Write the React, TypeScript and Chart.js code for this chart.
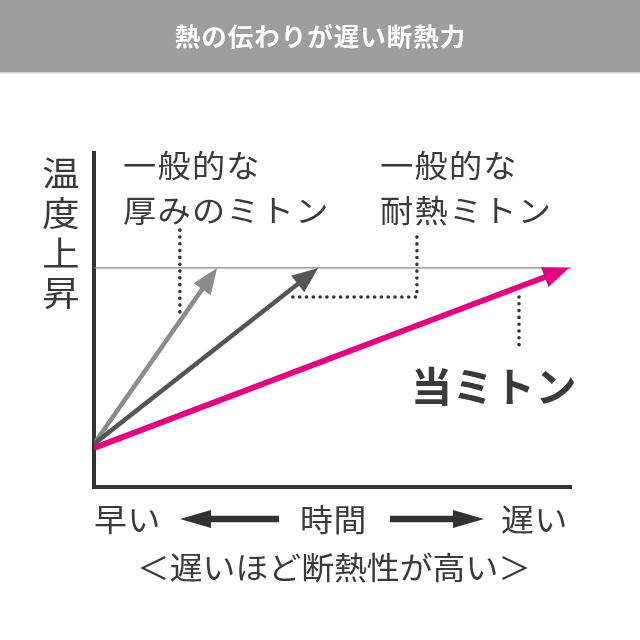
import React, { useEffect, useRef } from "react";
import { Chart, registerables } from "chart.js";

Chart.register(...registerables);

// ---------- texts ----------
const TITLE = "熱の伝わりが遅い断熱力";
const Y_TITLE_CHARS = ["温", "度", "上", "昇"];
const X_LABELS = ["早い", "時間", "遅い"];
const X_NOTE = "＜遅いほど断熱性が高い＞";
const LABEL_THICK = ["一般的な", "厚みのミトン"];
const LABEL_HEAT = ["一般的な", "耐熱ミトン"];
const LABEL_OURS = "当ミトン";

// ---------- data (arbitrary units: time on x, temperature rise on y) ----------
const X_RANGE = [0, 10];
const Y_RANGE = [0, 10];
const SERIES = ["当ミトン", "一般的な耐熱ミトン", "一般的な厚みのミトン"];
const ARROW_START_X = [0, 0, 0];
const ARROW_START_Y = [1.17, 1.29, 1.29];
const ARROW_END_X = [9.96, 4.7, 2.58];
const ARROW_END_Y = [6.56, 6.56, 6.56];
const CEILING_X = [0, 10];
const CEILING_Y = [6.56, 6.56];
const CALLOUT_THICK_X = [1.8, 1.8];
const CALLOUT_THICK_Y = [7.69, 5.15];
const CALLOUT_HEAT_X = [4.17, 6.77, 6.77];
const CALLOUT_HEAT_Y = [5.69, 5.69, 7.49];
const CALLOUT_OURS_X = [8.91, 8.91];
const CALLOUT_OURS_Y = [5.69, 4.1];

// ---------- styles ----------
const SERIES_COLORS = ["#e4007f", "#555555", "#8c8c8c"];
const SERIES_WIDTHS = [5.8, 4.5, 4.5];
const TEXT_COLOR = "#3a3a3a";
const FONT = '"Noto Sans CJK JP", "Noto Sans", sans-serif';
const HEAD_LEN = 26;
const HEAD_W = 21;

const pts = (xs: number[], ys: number[]) => xs.map((x, i) => ({ x, y: ys[i] }));

function drawText(
  ctx: CanvasRenderingContext2D,
  text: string,
  x: number,
  y: number,
  font: string,
  color: string,
  align: "left" | "center",
  sx = 1,
  ls = 0
) {
  ctx.save();
  ctx.font = font;
  ctx.fillStyle = color;
  ctx.textBaseline = "middle";
  ctx.textAlign = "left";
  (ctx as any).letterSpacing = ls + "px";
  const w = ctx.measureText(text).width * sx - ls * sx;
  const x0 = align === "center" ? x - w / 2 : x;
  ctx.translate(x0, y);
  ctx.scale(sx, 1);
  ctx.fillText(text, 0, 0);
  ctx.restore();
}

function blockArrow(
  ctx: CanvasRenderingContext2D,
  x1: number,
  x2: number,
  y: number,
  dir: number
) {
  const hl = 31;
  const hw = 9;
  const th = 3.2;
  ctx.save();
  ctx.fillStyle = "#333333";
  ctx.beginPath();
  if (dir < 0) {
    ctx.moveTo(x1, y);
    ctx.lineTo(x1 + hl, y - hw);
    ctx.lineTo(x1 + hl, y - th);
    ctx.lineTo(x2, y - th);
    ctx.lineTo(x2, y + th);
    ctx.lineTo(x1 + hl, y + th);
    ctx.lineTo(x1 + hl, y + hw);
  } else {
    ctx.moveTo(x2, y);
    ctx.lineTo(x2 - hl, y - hw);
    ctx.lineTo(x2 - hl, y - th);
    ctx.lineTo(x1, y - th);
    ctx.lineTo(x1, y + th);
    ctx.lineTo(x2 - hl, y + th);
    ctx.lineTo(x2 - hl, y + hw);
  }
  ctx.closePath();
  ctx.fill();
  ctx.restore();
}

function headGeom(data: any[]) {
  const p1 = data[data.length - 2];
  const p2 = data[data.length - 1];
  const dx = p2.x - p1.x;
  const dy = p2.y - p1.y;
  const L = Math.hypot(dx, dy) || 1;
  const ux = dx / L;
  const uy = dy / L;
  return { tx: p2.x, ty: p2.y, ux, uy, nx: -uy, ny: ux };
}

const arrowPlugin = {
  id: "arrowHeads",
  beforeDatasetDraw(chart: any, args: any) {
    const ds = chart.data.datasets[args.index];
    if (!ds.arrowHead) return;
    const g = headGeom(args.meta.data);
    const ctx = chart.ctx as CanvasRenderingContext2D;
    ctx.save();
    ctx.beginPath();
    ctx.rect(0, 0, chart.width, chart.height);
    const mx = g.tx - g.ux * HEAD_LEN * 0.55;
    const my = g.ty - g.uy * HEAD_LEN * 0.55;
    const r = 20;
    ctx.moveTo(mx + g.nx * r, my + g.ny * r);
    ctx.lineTo(mx + g.nx * r + g.ux * 50, my + g.ny * r + g.uy * 50);
    ctx.lineTo(mx - g.nx * r + g.ux * 50, my - g.ny * r + g.uy * 50);
    ctx.lineTo(mx - g.nx * r, my - g.ny * r);
    ctx.closePath();
    ctx.clip("evenodd");
  },
  afterDatasetDraw(chart: any, args: any) {
    const ds = chart.data.datasets[args.index];
    if (!ds.arrowHead) return;
    const ctx = chart.ctx as CanvasRenderingContext2D;
    ctx.restore();
    const g = headGeom(args.meta.data);
    const bx = g.tx - g.ux * HEAD_LEN;
    const by = g.ty - g.uy * HEAD_LEN;
    ctx.save();
    ctx.fillStyle = ds.borderColor;
    ctx.beginPath();
    ctx.moveTo(g.tx, g.ty);
    ctx.lineTo(bx + (g.nx * HEAD_W) / 2, by + (g.ny * HEAD_W) / 2);
    ctx.lineTo(bx - (g.nx * HEAD_W) / 2, by - (g.ny * HEAD_W) / 2);
    ctx.closePath();
    ctx.fill();
    ctx.restore();
  },
};

const decorPlugin = {
  id: "decor",
  beforeDraw(chart: any) {
    const ctx = chart.ctx as CanvasRenderingContext2D;
    const { width, height } = chart;
    ctx.save();
    ctx.fillStyle = "#ffffff";
    ctx.fillRect(0, 0, width, height);
    ctx.fillStyle = "#9e9e9e";
    ctx.fillRect(0, 0, width, 72);
    ctx.fillStyle = "#d0d0d0";
    ctx.fillRect(0, 72, width, 1.5);
    ctx.restore();
    drawText(ctx, TITLE, width / 2, 36, `bold 25px ${FONT}`, "#ffffff", "center", 1.02, 1);
  },
  afterDraw(chart: any) {
    const ctx = chart.ctx as CanvasRenderingContext2D;
    Y_TITLE_CHARS.forEach((c, i) => {
      drawText(ctx, c, 61, 173 + i * 40, `34px ${FONT}`, TEXT_COLOR, "center", 1.1, 0);
    });
    LABEL_THICK.forEach((t, i) => {
      drawText(ctx, t, 123, 165 + i * 45, `31px ${FONT}`, TEXT_COLOR, "left", 1.07, 1.2);
    });
    LABEL_HEAT.forEach((t, i) => {
      drawText(ctx, t, 380, 165 + i * 45, `31px ${FONT}`, TEXT_COLOR, "left", 1.07, 1.2);
    });
    drawText(ctx, LABEL_OURS, 411, 386, `bold 41px ${FONT}`, TEXT_COLOR, "left", 1.0, 0.5);
    drawText(ctx, X_LABELS[0], 94, 519, `31px ${FONT}`, TEXT_COLOR, "left", 1.06, 0.5);
    drawText(ctx, X_LABELS[1], 300, 519, `31px ${FONT}`, TEXT_COLOR, "left", 1.06, 0.5);
    drawText(ctx, X_LABELS[2], 501, 519, `31px ${FONT}`, TEXT_COLOR, "left", 1.06, 0.5);
    blockArrow(ctx, 180, 279, 519, -1);
    blockArrow(ctx, 390, 484, 519, 1);
    drawText(ctx, X_NOTE, 334, 567, `31px ${FONT}`, TEXT_COLOR, "center", 1.06, 0);
  },
};

export default function App() {
  const ref = useRef<HTMLCanvasElement | null>(null);

  useEffect(() => {
    if (!ref.current) return;
    const dotted = {
      borderColor: "#333333",
      borderWidth: 3.6,
      borderDash: [0.01, 6.8],
      borderCapStyle: "round",
      pointRadius: 0,
      fill: false,
    };
    const datasets: any[] = [
      ...SERIES.map((name, i) => ({
        label: name,
        data: [
          { x: ARROW_START_X[i], y: ARROW_START_Y[i] },
          { x: ARROW_END_X[i], y: ARROW_END_Y[i] },
        ],
        borderColor: SERIES_COLORS[i],
        borderWidth: SERIES_WIDTHS[i],
        borderCapStyle: "butt",
        pointRadius: 0,
        arrowHead: true,
        fill: false,
      })),
      {
        label: "ceiling",
        data: pts(CEILING_X, CEILING_Y),
        borderColor: "#858585",
        borderWidth: 1.3,
        pointRadius: 0,
        fill: false,
      },
      { label: "callout-thick", data: pts(CALLOUT_THICK_X, CALLOUT_THICK_Y), ...dotted },
      { label: "callout-heat", data: pts(CALLOUT_HEAT_X, CALLOUT_HEAT_Y), ...dotted },
      { label: "callout-ours", data: pts(CALLOUT_OURS_X, CALLOUT_OURS_Y), ...dotted },
    ];

    const chart = new Chart(ref.current, {
      type: "line",
      data: { datasets },
      options: {
        animation: false,
        responsive: false,
        layout: { padding: { left: 94, right: 69, top: 153, bottom: 153 } },
        plugins: {
          legend: { display: false },
          tooltip: { enabled: false },
          title: { display: false },
        },
        elements: { point: { radius: 0 }, line: { tension: 0 } },
        scales: {
          x: {
            type: "linear",
            min: X_RANGE[0],
            max: X_RANGE[1],
            grid: { display: false, drawTicks: false },
            ticks: { display: false },
            border: { display: true, color: "#333333", width: 4 },
          },
          y: {
            type: "linear",
            min: Y_RANGE[0],
            max: Y_RANGE[1],
            grid: { display: false, drawTicks: false },
            ticks: { display: false },
            border: { display: true, color: "#333333", width: 4 },
          },
        },
      } as any,
      plugins: [decorPlugin, arrowPlugin],
    });
    return () => chart.destroy();
  }, []);

  return (
    <div style={{ position: "fixed", left: 0, top: 0, width: 640, height: 640, background: "#fff" }}>
      <canvas ref={ref} width={640} height={640} style={{ display: "block", width: 640, height: 640 }} />
    </div>
  );
}
